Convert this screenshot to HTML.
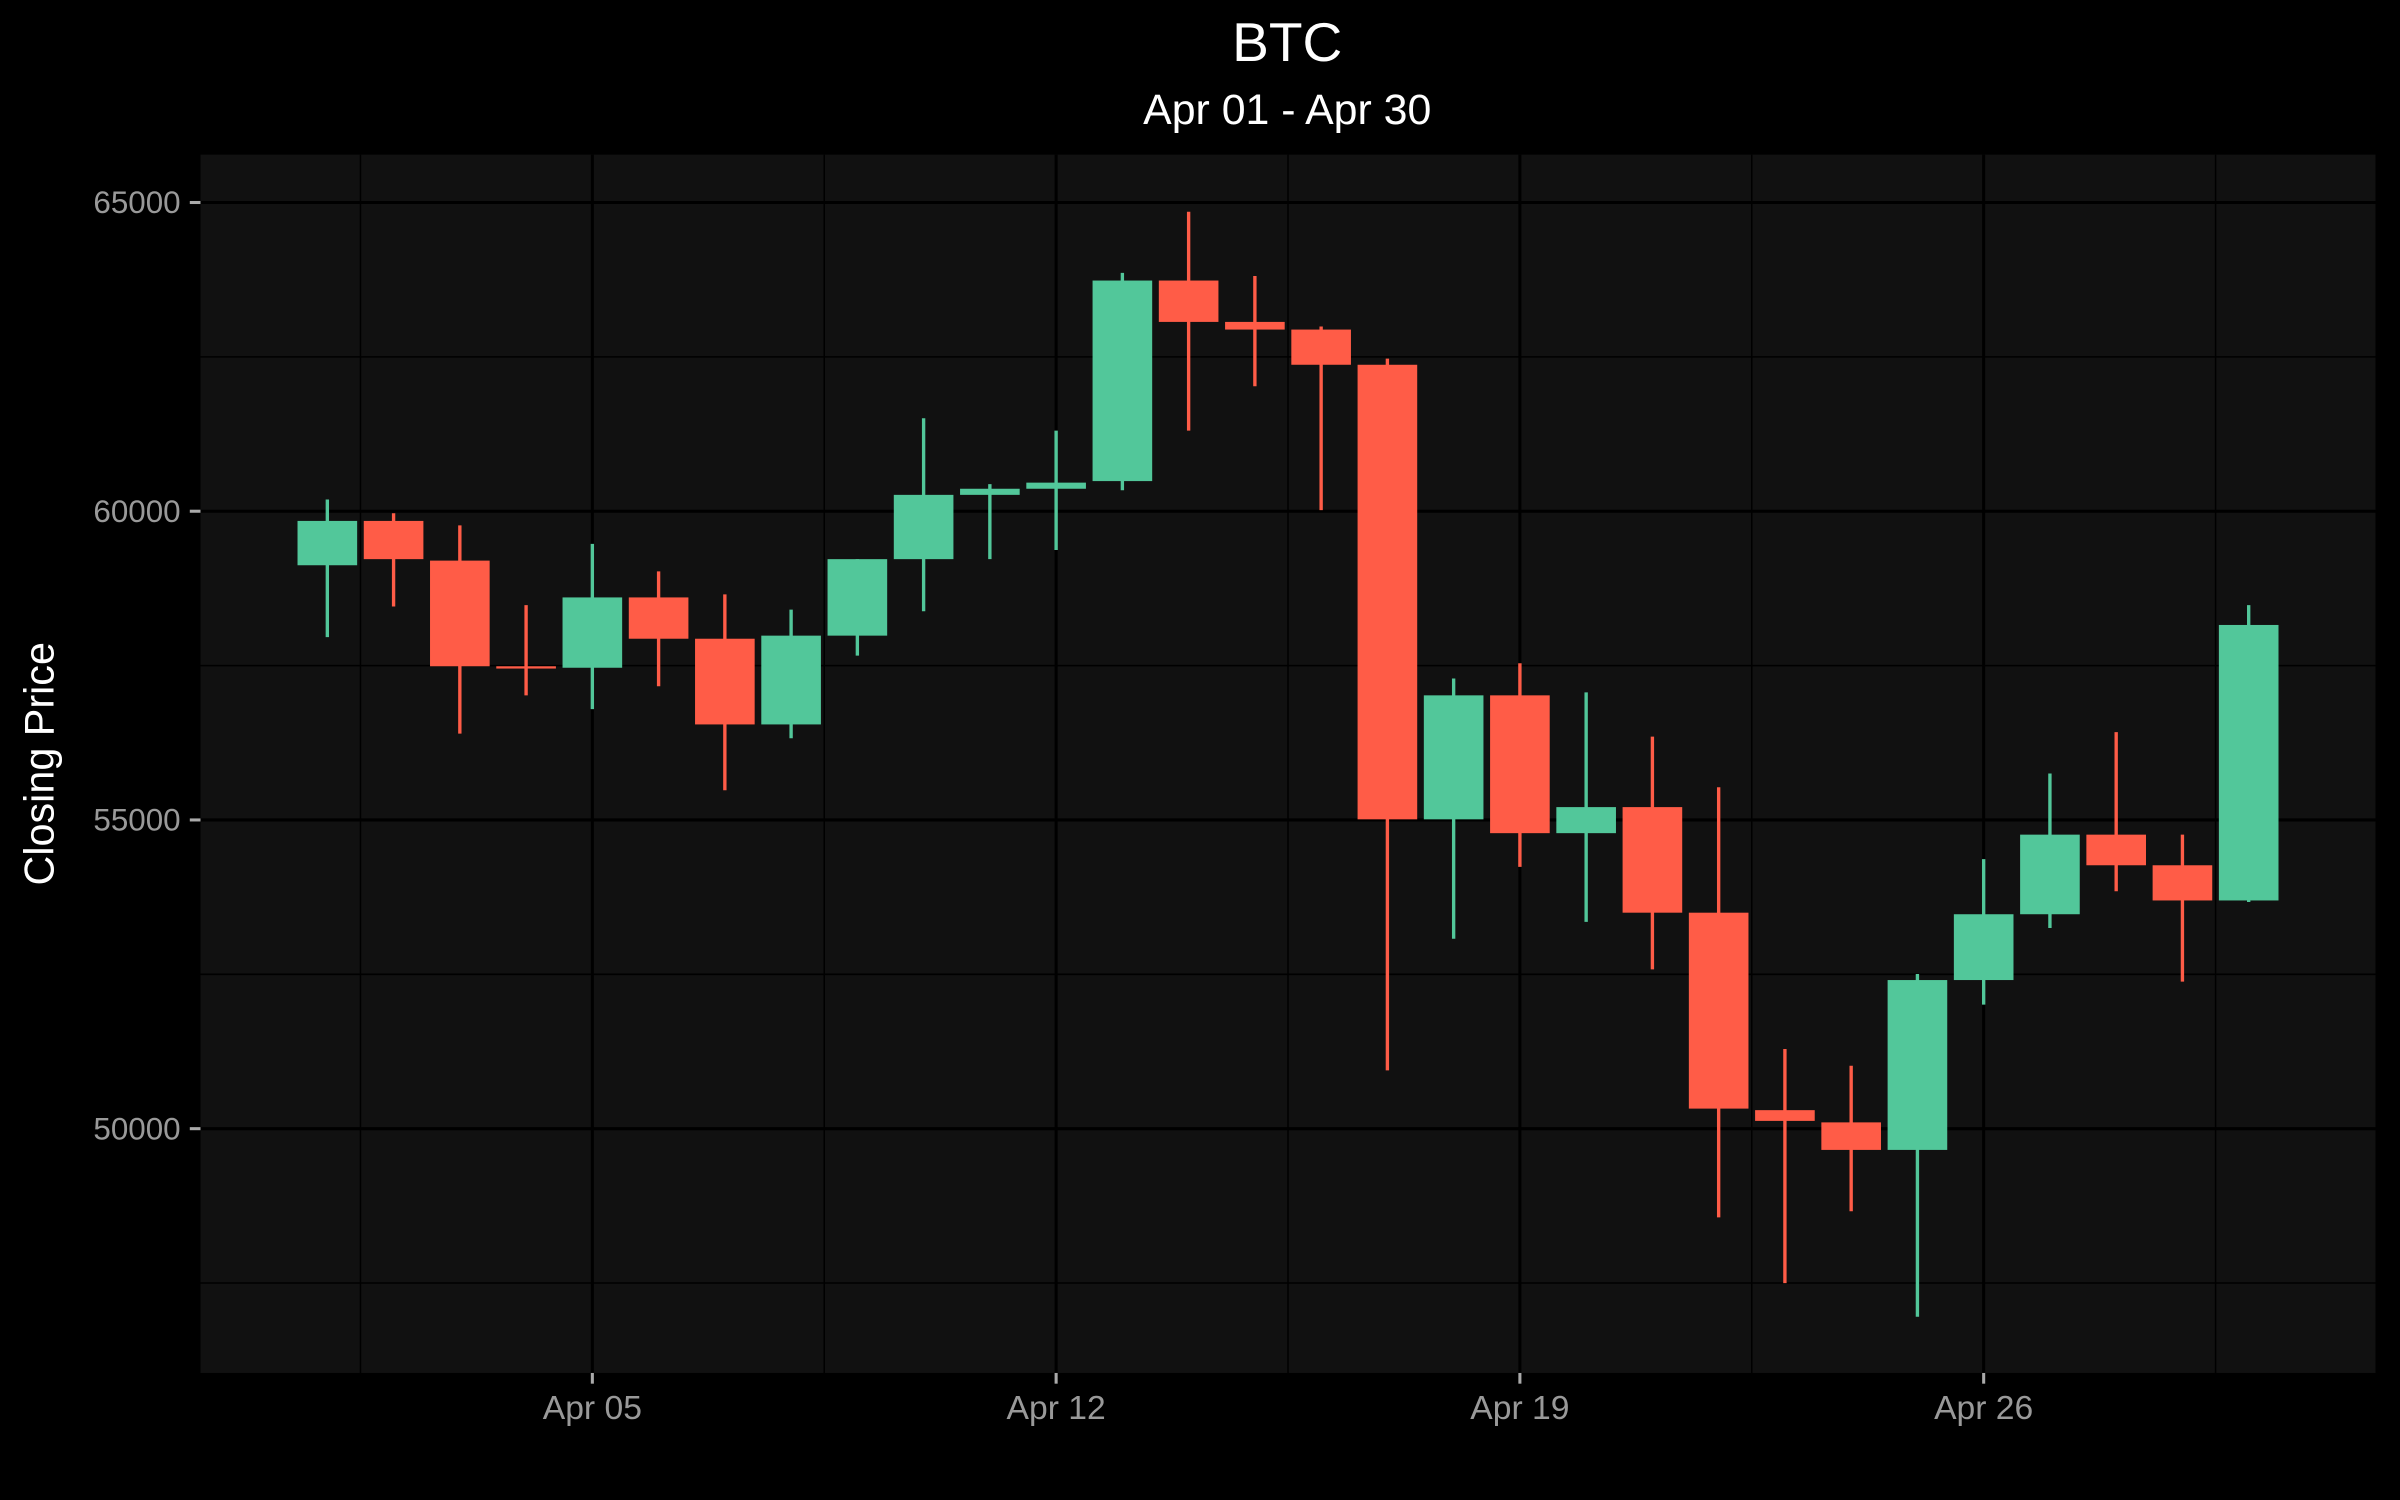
<!DOCTYPE html>
<html><head><meta charset="utf-8">
<style>
html,body{margin:0;padding:0;background:#000;width:2400px;height:1500px;overflow:hidden}
svg{display:block}
text{font-family:"Liberation Sans",sans-serif}
</style></head>
<body>
<svg id="chart" width="2400" height="1500" viewBox="0 0 1568 980" xmlns="http://www.w3.org/2000/svg">
<rect x="0" y="0" width="1568" height="980" fill="#000"/>
<text x="841" y="40" fill="#fff" font-size="36" text-anchor="middle">BTC</text>
<text x="841" y="81" fill="#fff" font-size="28" text-anchor="middle">Apr 01 - Apr 30</text>
<rect x="131" y="101" width="1421" height="796" fill="#111"/>
<g id="grid"></g>
<g id="candles"></g>
<g id="axes"></g>
<text transform="translate(35,499) rotate(-90)" fill="#fff" font-size="27" text-anchor="middle">Closing Price</text>
</svg>
<script>
const days = [1,2,3,4,5,6,7,8,9,10,11,12,13,14,15,16,17,18,19,20,21,22,23,24,25,26,27,28,29,30];
const opens = [59125,59843,59200,57489,57465,58604,57935,56547,57985,59224,60265,60364,60488,63736,63066,62942,62372,55010,57018,54786,55208,53498,50300,50102,49656,52407,53473,54762,54266,53696];
const highs = [60190,59968,59770,58480,59472,59026,58654,58406,59224,61505,60439,61306,63860,64851,63810,62992,62471,57290,57538,57067,56349,55530,51291,51019,52506,54365,55753,56423,54762,58480];
const lows = [57960,58456,56398,57018,56794,57166,55481,56324,57662,58381,59224,59373,60340,61306,62025,60017,50944,53076,54241,53349,52580,48564,47499,48663,46953,52010,53250,53845,52382,53671];
const closes = [59843,59224,57489,57465,58604,57935,56547,57985,59224,60265,60364,60463,63736,63066,62942,62372,55010,57018,54786,55208,53498,50325,50126,49656,52407,53473,54762,54266,53696,58158];
const yTicks = [50000,55000,60000,65000];
const yMinor = [47500,52500,57500,62500];
const xTickDays = [5,12,19,26];
const xTickLabels = ["Apr 05","Apr 12","Apr 19","Apr 26"];
const xMinorDays = [1.5,8.5,15.5,22.5,29.5];

const NS="http://www.w3.org/2000/svg";
const X0=131,X1=1552,Y0=101,Y1=897;
function xs(d){return 387+(d-5)*(303/7);}
function ys(v){return 334-(v-60000)*(201.7/5000);}
function mk(tag,attrs,parent){const e=document.createElementNS(NS,tag);for(const k in attrs)e.setAttribute(k,attrs[k]);parent.appendChild(e);return e;}
const grid=document.getElementById('grid'),axes=document.getElementById('axes'),cg=document.getElementById('candles');
yMinor.forEach(v=>{const l=mk('line',{x1:X0,x2:X1,y1:ys(v),y2:ys(v),stroke:'#000','stroke-width':1},grid);

});
xMinorDays.forEach(d=>{const l=mk('line',{x1:xs(d),x2:xs(d),y1:Y0,y2:Y1,stroke:'#000','stroke-width':1},grid);

});
yTicks.forEach(v=>{const y=ys(v);
const l=mk('line',{x1:X0,x2:X1,y1:y,y2:y,stroke:'#000','stroke-width':2},grid);


const t=mk('line',{x1:X0-7,x2:X0,y1:y,y2:y,stroke:'#aaa','stroke-width':2},axes);


const tx=mk('text',{x:X0-13,y:y+7,fill:'#999','font-size':20.5,'text-anchor':'end'},axes);tx.textContent=v;

});
xTickDays.forEach((d,i)=>{const x=xs(d);
const l=mk('line',{x1:x,x2:x,y1:Y0,y2:Y1,stroke:'#000','stroke-width':2},grid);


const t=mk('line',{x1:x,x2:x,y1:Y1,y2:Y1+7,stroke:'#aaa','stroke-width':2},axes);


const tx=mk('text',{x:x,y:Y1+30,fill:'#999','font-size':22,'text-anchor':'middle'},axes);tx.textContent=xTickLabels[i];

});
const bw=0.9*(303/7);
days.forEach((d,i)=>{const o=opens[i],c=closes[i],h=highs[i],lo=lows[i];
const col=c>=o?'#52C79A':'#FF5C47';const x=xs(d);
const g=mk('g',{},cg);


const w=mk('line',{x1:x,x2:x,y1:ys(h),y2:ys(lo),stroke:col,'stroke-width':2.2},g);


const top=Math.min(ys(o),ys(c)),hh=Math.max(1.5,Math.abs(ys(o)-ys(c)));
const b=mk('rect',{x:x-bw/2,y:top,width:bw,height:hh,fill:col},g);

});
</script>
</body></html>
